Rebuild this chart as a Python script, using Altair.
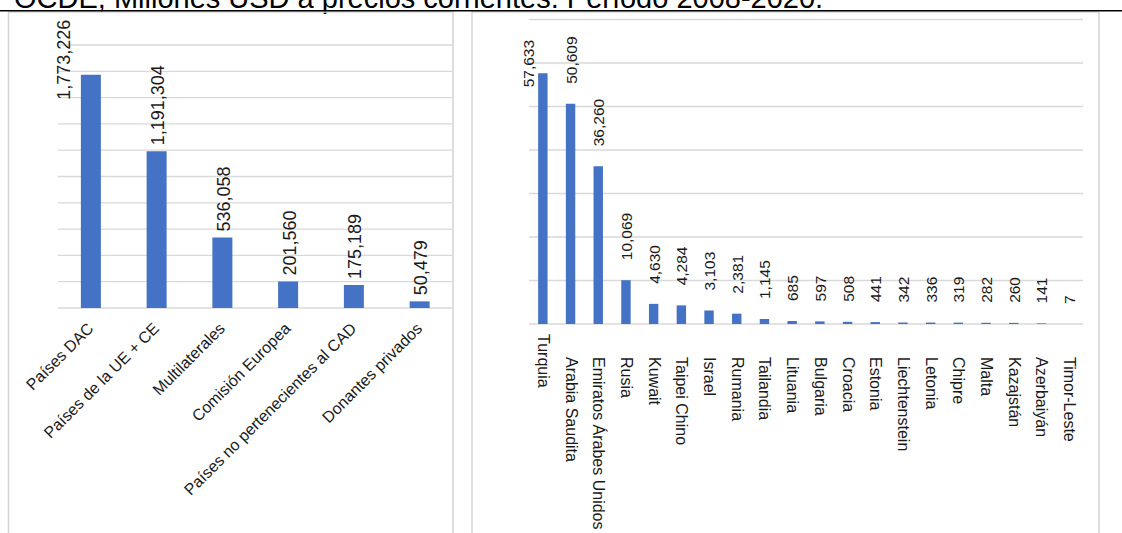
import altair as alt
import pandas as pd

# --- data -------------------------------------------------------------
TITLE = "OCDE, Millones USD a precios corrientes. Período 2008-2020."

left_categories = [
    "Países DAC",
    "Países de la UE + CE",
    "Multilaterales",
    "Comisión Europea",
    "Países no pertenecientes al CAD",
    "Donantes privados",
]
left_values = [1773226, 1191304, 536058, 201560, 175189, 50479]
left_grid = [0, 200000, 400000, 600000, 800000, 1000000,
             1200000, 1400000, 1600000, 1800000, 2000000]

right_categories = [
    "Turquia", "Arabia Saudita", "Emiratos Árabes Unidos", "Rusia", "Kuwait",
    "Taipei Chino", "Israel", "Rumania", "Tailandia", "Lituania", "Bulgaria",
    "Croacia", "Estonia", "Liechtenstein", "Letonia", "Chipre", "Malta",
    "Kazajstán", "Azerbaiyán", "Timor-Leste",
]
right_values = [57633, 50609, 36260, 10069, 4630, 4284, 3103, 2381, 1145, 685,
                597, 508, 441, 342, 336, 319, 282, 260, 141, 7]
right_grid = [0, 10000, 20000, 30000, 40000, 50000, 60000, 70000]

# --- style ------------------------------------------------------------
BLUE = "#4472C4"
GRID = "#d9d9d9"
BORDER = "#d4d4d4"
TEXT = "#1a1a1a"
FONT = "Liberation Sans"

W, H = 1122, 533

left_df = pd.DataFrame({"cat": left_categories, "value": left_values})
right_df = pd.DataFrame({"cat": right_categories, "value": right_values})


def panel(df, categories, grid, x_range, y_range, y_max, pad_inner,
          value_size, gap, shift, first_dx, first_dy,
          cat_angle, cat_align, cat_y, first_cat_y):
    xs = alt.Scale(domain=categories, range=x_range,
                   paddingInner=pad_inner, paddingOuter=pad_inner / 2)
    ys = alt.Scale(domain=[0, y_max], range=y_range)
    x_enc = alt.X("cat:N", scale=xs, axis=None)
    y_enc = alt.Y("value:Q", scale=ys, axis=None)
    is_first = alt.datum.cat == categories[0]
    not_first = alt.datum.cat != categories[0]

    grid_lines = alt.Chart(pd.DataFrame({"value": grid})).mark_rule(
        color=GRID, strokeWidth=1.3
    ).encode(y=y_enc, x=alt.value(x_range[0]), x2=alt.value(x_range[1]))

    bars = alt.Chart(df).mark_bar(color=BLUE).encode(x=x_enc, y=y_enc)

    value_style = dict(angle=270, align="left", baseline="middle",
                       fontSize=value_size, font=FONT, color=TEXT)
    value_text = alt.Text("value:Q", format=",")

    value_labels = alt.Chart(df).transform_filter(not_first).mark_text(
        dx=gap, dy=shift, **value_style
    ).encode(x=x_enc, y=y_enc, text=value_text)

    # the tallest bar's label sits beside the bar, next to its top edge
    first_label = alt.Chart(df).transform_filter(is_first).mark_text(
        dx=first_dx, dy=first_dy, **value_style
    ).encode(x=x_enc, y=y_enc, text=value_text)

    cat_style = dict(angle=cat_angle, align=cat_align, baseline="middle",
                     fontSize=16, font=FONT, color=TEXT)

    cat_labels = alt.Chart(df).transform_filter(not_first).mark_text(
        **cat_style
    ).encode(x=x_enc, y=alt.value(cat_y), text="cat:N")

    first_cat = alt.Chart(df).transform_filter(is_first).mark_text(
        **cat_style
    ).encode(x=x_enc, y=alt.value(first_cat_y), text="cat:N")

    return alt.layer(grid_lines, bars, value_labels, first_label,
                     cat_labels, first_cat)


left = panel(left_df, left_categories, left_grid,
             x_range=[58, 452.5], y_range=[308, 45], y_max=2000000,
             pad_inner=0.696, value_size=18, gap=6, shift=2.5,
             first_dx=-25, first_dy=-26,
             cat_angle=315, cat_align="right", cat_y=326, first_cat_y=326)

right = panel(right_df, right_categories, right_grid,
              x_range=[529, 1083], y_range=[324, 19.5], y_max=70000,
              pad_inner=0.66, value_size=15.5, gap=20, shift=1,
              first_dx=-14, first_dy=-14,
              cat_angle=90, cat_align="left", cat_y=357, first_cat_y=334)

one = alt.Data(values=[{"t": TITLE}])

title = alt.Chart(one).mark_text(
    align="left", baseline="alphabetic", fontSize=29, font=FONT, color="black"
).encode(x=alt.value(14), y=alt.value(7.5), text="t:N")

top_line = alt.Chart(one).mark_rule(color="black", strokeWidth=1.6).encode(
    x=alt.value(0), x2=alt.value(W), y=alt.value(10.8)
)

left_frame = alt.Chart(one).mark_rect(
    filled=False, stroke=BORDER, strokeWidth=1.5
).encode(x=alt.value(8.5), x2=alt.value(453), y=alt.value(12), y2=alt.value(600))

right_frame = alt.Chart(one).mark_rect(
    filled=False, stroke=BORDER, strokeWidth=1.5
).encode(x=alt.value(472), x2=alt.value(1099), y=alt.value(12), y2=alt.value(600))

chart = alt.layer(
    title, left_frame, right_frame, top_line, left, right
).resolve_scale(
    x="independent", y="independent"
).properties(
    width=W, height=H, padding=0, background="white",
    autosize=alt.AutoSizeParams(type="none"),
).configure_view(strokeWidth=0)

chart.save("out.html", embed_options={"renderer": "svg", "actions": False})
